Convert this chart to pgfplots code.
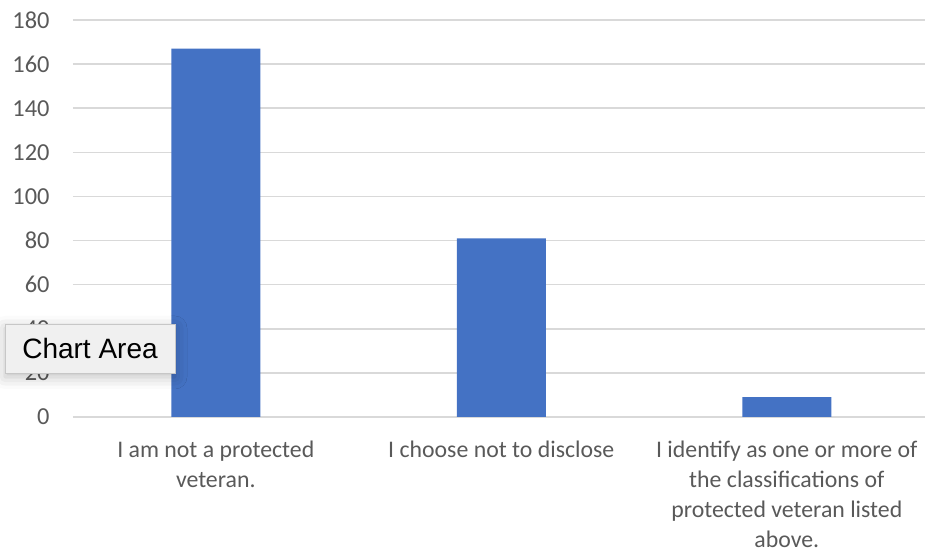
\documentclass[border=0pt]{standalone}
\usepackage{pgfplots}
\pgfplotsset{compat=1.18}
\usepackage{fontspec}
\setmainfont{Carlito}
\newfontfamily\uifont{Liberation Sans}
\usetikzlibrary{shadows.blur}

\definecolor{barblue}{HTML}{4472C4}
\definecolor{gridgray}{HTML}{D9D9D9}
\definecolor{labelgray}{HTML}{595959}

\pgfplotstableread{
x  count
0  167
1  81
2  9
}\veterandata

\begin{document}
\begin{tikzpicture}
\path[use as bounding box] (-36.5pt,-67pt) rectangle (426pt,208.5pt);
\begin{axis}[
  at={(0,0)}, anchor=south west,
  scale only axis,
  width=426pt, height=198.5pt,
  xmin=-0.5, xmax=2.484,
  ymin=0, ymax=180,
  ytick={0,20,...,180},
  xtick={0,1,2},
  xticklabels={
    {I am not a protected\\veteran.},
    {I choose not to disclose},
    {I identify as one or more of\\the classifications of\\protected veteran listed\\above.}},
  axis line style={draw=none},
  major tick length=0pt,
  ymajorgrids,
  grid style={gridgray, line width=0.8pt},
  tick label style={text=labelgray},
  yticklabel style={font=\fontsize{12.2}{15}\selectfont, anchor=east, inner sep=0pt, xshift=-11.5pt},
  xticklabel style={font=\fontsize{11.9}{15}\selectfont, anchor=north, inner sep=0pt, yshift=-12pt, align=center},
  /pgf/number format/assume math mode=true,
  clip=false,
]
\addplot[ybar, bar width=44.5pt, fill=barblue, draw=none] table[x=x, y=count] {\veterandata};
\end{axis}
% hover tooltip over the left of the plot
\node[draw=black!22, fill=black!6, line width=0.4pt,
      minimum width=85pt, minimum height=24.5pt, inner sep=0pt,
      blur shadow={shadow xshift=0pt, shadow yshift=-2pt, shadow blur radius=6pt, shadow opacity=25},
      font=\uifont\fontsize{14}{16}\selectfont, text=black]
  at (8.5pt,34.25pt) {Chart Area};
\end{tikzpicture}
\end{document}
